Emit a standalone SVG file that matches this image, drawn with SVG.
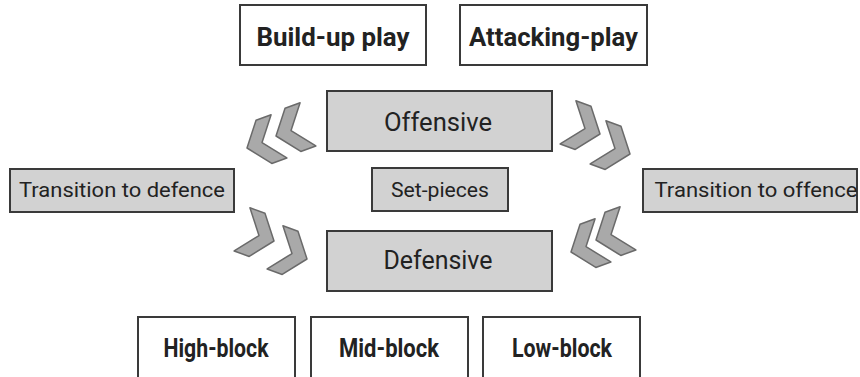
<svg xmlns="http://www.w3.org/2000/svg" width="860" height="377" viewBox="0 0 860 377">
<style>
.bw{fill:#ffffff;stroke:#3a3a3a;stroke-width:2}
.bg{fill:#d2d2d2;stroke:#3a3a3a;stroke-width:2}
.tb{font-family:Roboto,"Open Sans",sans-serif;font-weight:bold;font-size:25px;fill:#222;text-anchor:middle}
.tn{font-family:Roboto,"Open Sans",sans-serif;font-size:21px;fill:#222;text-anchor:middle}
.tl{font-family:Roboto,"Open Sans",sans-serif;font-size:26px;fill:#222;text-anchor:middle}
.ch{fill:#a9a9a9;stroke:#6a6a6a;stroke-width:1.5;stroke-linejoin:round}
</style>
<defs>
<polygon id="chL" class="ch" points="0,0 18,-23 34,-23 16,0 34,23 18,23"/>
<polygon id="chR" class="ch" points="0,0 -18,-23 -34,-23 -16,0 -34,23 -18,23"/>
</defs>
<rect width="860" height="377" fill="#ffffff"/>
<g id="build-up-play">
<rect class="bw" x="240" y="5" width="186" height="60"/>
<text class="tb" x="333" y="46" textLength="153" lengthAdjust="spacingAndGlyphs">Build-up play</text>
</g>
<g id="attacking-play">
<rect class="bw" x="460" y="5" width="187" height="60"/>
<text class="tb" x="553.5" y="46" textLength="169" lengthAdjust="spacingAndGlyphs">Attacking-play</text>
</g>
<g id="offensive">
<rect class="bg" x="327" y="91" width="225" height="60"/>
<text class="tl" x="438" y="131" textLength="108" lengthAdjust="spacingAndGlyphs">Offensive</text>
</g>
<g id="transition-to-defence">
<rect class="bg" x="10" y="169" width="224" height="43"/>
<text class="tn" x="122" y="197" textLength="206" lengthAdjust="spacingAndGlyphs">Transition to defence</text>
</g>
<g id="set-pieces">
<rect class="bg" x="372" y="168" width="136" height="43"/>
<text class="tn" x="440" y="197" textLength="98" lengthAdjust="spacingAndGlyphs">Set-pieces</text>
</g>
<g id="transition-to-offence">
<rect class="bg" x="643" y="169" width="214" height="43"/>
<text class="tn" x="756" y="197" textLength="203" lengthAdjust="spacingAndGlyphs">Transition to offence</text>
</g>
<g id="defensive">
<rect class="bg" x="327" y="231" width="225" height="60"/>
<text class="tl" x="438" y="269" textLength="109" lengthAdjust="spacingAndGlyphs">Defensive</text>
</g>
<g id="high-block">
<rect class="bw" x="138" y="317" width="157" height="64"/>
<text class="tb" x="216" y="357" textLength="105" lengthAdjust="spacingAndGlyphs">High-block</text>
</g>
<g id="mid-block">
<rect class="bw" x="311" y="317" width="157" height="64"/>
<text class="tb" x="389" y="357" textLength="100" lengthAdjust="spacingAndGlyphs">Mid-block</text>
</g>
<g id="low-block">
<rect class="bw" x="483" y="317" width="157" height="64"/>
<text class="tb" x="562" y="357" textLength="100" lengthAdjust="spacingAndGlyphs">Low-block</text>
</g>
<g id="connectors">
<use href="#chL" transform="translate(247 148) rotate(-20)"/>
<use href="#chL" transform="translate(276 136) rotate(-20)"/>
<use href="#chR" transform="translate(600 134) rotate(20)"/>
<use href="#chR" transform="translate(630 154) rotate(20)"/>
<use href="#chR" transform="translate(274 241) rotate(20)"/>
<use href="#chR" transform="translate(307 259) rotate(20)"/>
<use href="#chL" transform="translate(571 252) rotate(-20)"/>
<use href="#chL" transform="translate(596 240) rotate(-20)"/>
</g>
</svg>
